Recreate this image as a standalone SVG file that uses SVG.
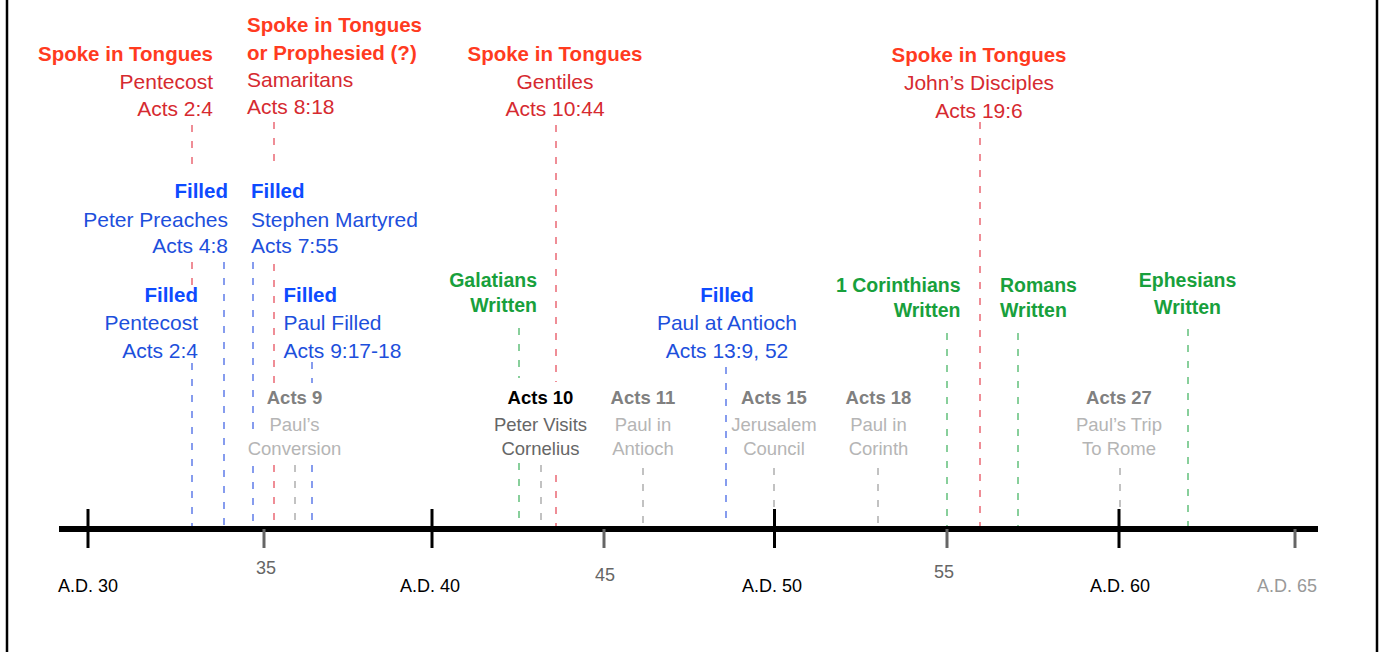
<svg xmlns="http://www.w3.org/2000/svg" width="1382" height="652" viewBox="0 0 1382 652">
<style>
text{font-family:"Liberation Sans",Arial,sans-serif}
.hr{font-weight:bold;font-size:20.5px;fill:#ff3b1f}
.tr{font-size:21px;fill:#d62a30}
.hb{font-weight:bold;font-size:20.5px;fill:#0d4bff}
.tb{font-size:21px;fill:#1d4fdc}
.hg{font-weight:bold;font-size:19.5px;fill:#18a03c}
.ga{font-weight:bold;font-size:18.5px;fill:#808080}
.gt{font-size:18.5px;fill:#b5b5b5}
.gk{font-weight:bold;font-size:18.5px;fill:#000}
.gd{font-size:18.5px;fill:#666}
.ax{font-size:18px;fill:#000}
.axm{font-size:18px;fill:#666}
.axl{font-size:18px;fill:#999}
.e{text-anchor:end}.m{text-anchor:middle}
.dl{stroke-width:2;stroke-dasharray:7 9;fill:none}
.r{stroke:#ef8d96}.b{stroke:#869cee}.g{stroke:#88cf9b}.k{stroke:#c2c2c2}
</style>
<rect width="1382" height="652" fill="#fff"/>
<line x1="7" y1="0" x2="7" y2="652" stroke="#000" stroke-width="2.5"/>
<line x1="1377" y1="0" x2="1377" y2="652" stroke="#000" stroke-width="2.5"/>

<g id="connectors">
<path class="dl r" d="M192 125V173M192 262V286M274 122V170M274 264V383M274 465V527M556 125V382M556 475V531M980 122V527"/>
<path class="dl b" d="M192 363V527M224 262V527M253 262V432M253 466V527M312 362V383M312 465V527M726 367V527"/>
<path class="dl g" d="M519 328V378M519 463V527M947 333V527M1018 333V527M1188 329V527"/>
<path class="dl k" d="M295 465V527M541 465V527M643 468V527M774 468V509M878 468V527M1120 468V509"/>
</g>

<g id="axis">
<line x1="59" y1="529" x2="1318" y2="529" stroke="#000" stroke-width="6"/>
<g stroke="#000" stroke-width="3">
<line x1="88" y1="509" x2="88" y2="548"/>
<line x1="432" y1="509" x2="432" y2="548"/>
<line x1="774.5" y1="509" x2="774.5" y2="548"/>
<line x1="1119" y1="509" x2="1119" y2="548"/>
</g>
<g stroke="#666" stroke-width="3">
<line x1="264" y1="529" x2="264" y2="548"/>
<line x1="604" y1="529" x2="604" y2="548"/>
<line x1="947" y1="529" x2="947" y2="548"/>
<line x1="1295" y1="529" x2="1295" y2="548"/>
</g>
<text class="ax" x="58" y="592">A.D. 30</text>
<text class="axm m" x="266" y="574">35</text>
<text class="ax" x="400" y="592">A.D. 40</text>
<text class="axm m" x="605" y="581">45</text>
<text class="ax" x="742" y="592">A.D. 50</text>
<text class="axm m" x="944" y="578">55</text>
<text class="ax" x="1090" y="592">A.D. 60</text>
<text class="axl" x="1257" y="592">A.D. 65</text>
</g>

<g id="tongues-pentecost">
<text class="hr e" x="213" y="61">Spoke in Tongues</text>
<text class="tr e" x="213" y="89">Pentecost</text>
<text class="tr e" x="213" y="116">Acts 2:4</text>
</g>
<g id="tongues-samaritans">
<text class="hr" x="247" y="32">Spoke in Tongues</text>
<text class="hr" x="247" y="60">or Prophesied (?)</text>
<text class="tr" x="247" y="87">Samaritans</text>
<text class="tr" x="247" y="114">Acts 8:18</text>
</g>
<g id="tongues-gentiles">
<text class="hr m" x="555" y="61">Spoke in Tongues</text>
<text class="tr m" x="555" y="89">Gentiles</text>
<text class="tr m" x="555" y="116">Acts 10:44</text>
</g>
<g id="tongues-johns-disciples">
<text class="hr m" x="979" y="62">Spoke in Tongues</text>
<text class="tr m" x="979" y="90">John’s Disciples</text>
<text class="tr m" x="979" y="118">Acts 19:6</text>
</g>

<g id="filled-peter-preaches">
<text class="hb e" x="228" y="198">Filled</text>
<text class="tb e" x="228" y="227">Peter Preaches</text>
<text class="tb e" x="228" y="253">Acts 4:8</text>
</g>
<g id="filled-stephen">
<text class="hb" x="251" y="198">Filled</text>
<text class="tb" x="251" y="227">Stephen Martyred</text>
<text class="tb" x="251" y="253">Acts 7:55</text>
</g>
<g id="filled-pentecost">
<text class="hb e" x="198" y="302">Filled</text>
<text class="tb e" x="198" y="330">Pentecost</text>
<text class="tb e" x="198" y="358">Acts 2:4</text>
</g>
<g id="filled-paul">
<text class="hb" x="283.5" y="302">Filled</text>
<text class="tb" x="283.5" y="330">Paul Filled</text>
<text class="tb" x="283.5" y="358">Acts 9:17-18</text>
</g>
<g id="filled-antioch">
<text class="hb m" x="727" y="302">Filled</text>
<text class="tb m" x="727" y="330">Paul at Antioch</text>
<text class="tb m" x="727" y="358">Acts 13:9, 52</text>
</g>

<g id="galatians">
<text class="hg e" x="537" y="287">Galatians</text>
<text class="hg e" x="537" y="312">Written</text>
</g>
<g id="corinthians">
<text class="hg e" x="960.5" y="292">1 Corinthians</text>
<text class="hg e" x="960.5" y="317">Written</text>
</g>
<g id="romans">
<text class="hg" x="1000" y="292">Romans</text>
<text class="hg" x="1000" y="317">Written</text>
</g>
<g id="ephesians">
<text class="hg m" x="1187.5" y="287">Ephesians</text>
<text class="hg m" x="1187.5" y="314">Written</text>
</g>

<g id="acts9">
<text class="ga m" x="294.5" y="404">Acts 9</text>
<text class="gt m" x="294.5" y="431">Paul’s</text>
<text class="gt m" x="294.5" y="455">Conversion</text>
</g>
<g id="acts10">
<text class="gk m" x="540.5" y="404">Acts 10</text>
<text class="gd m" x="540.5" y="431">Peter Visits</text>
<text class="gd m" x="540.5" y="455">Cornelius</text>
</g>
<g id="acts11">
<text class="ga m" x="643" y="404">Acts 11</text>
<text class="gt m" x="643" y="431">Paul in</text>
<text class="gt m" x="643" y="455">Antioch</text>
</g>
<g id="acts15">
<text class="ga m" x="774" y="404">Acts 15</text>
<text class="gt m" x="774" y="431">Jerusalem</text>
<text class="gt m" x="774" y="455">Council</text>
</g>
<g id="acts18">
<text class="ga m" x="878.5" y="404">Acts 18</text>
<text class="gt m" x="878.5" y="431">Paul in</text>
<text class="gt m" x="878.5" y="455">Corinth</text>
</g>
<g id="acts27">
<text class="ga m" x="1119" y="404">Acts 27</text>
<text class="gt m" x="1119" y="431">Paul’s Trip</text>
<text class="gt m" x="1119" y="455">To Rome</text>
</g>
</svg>
